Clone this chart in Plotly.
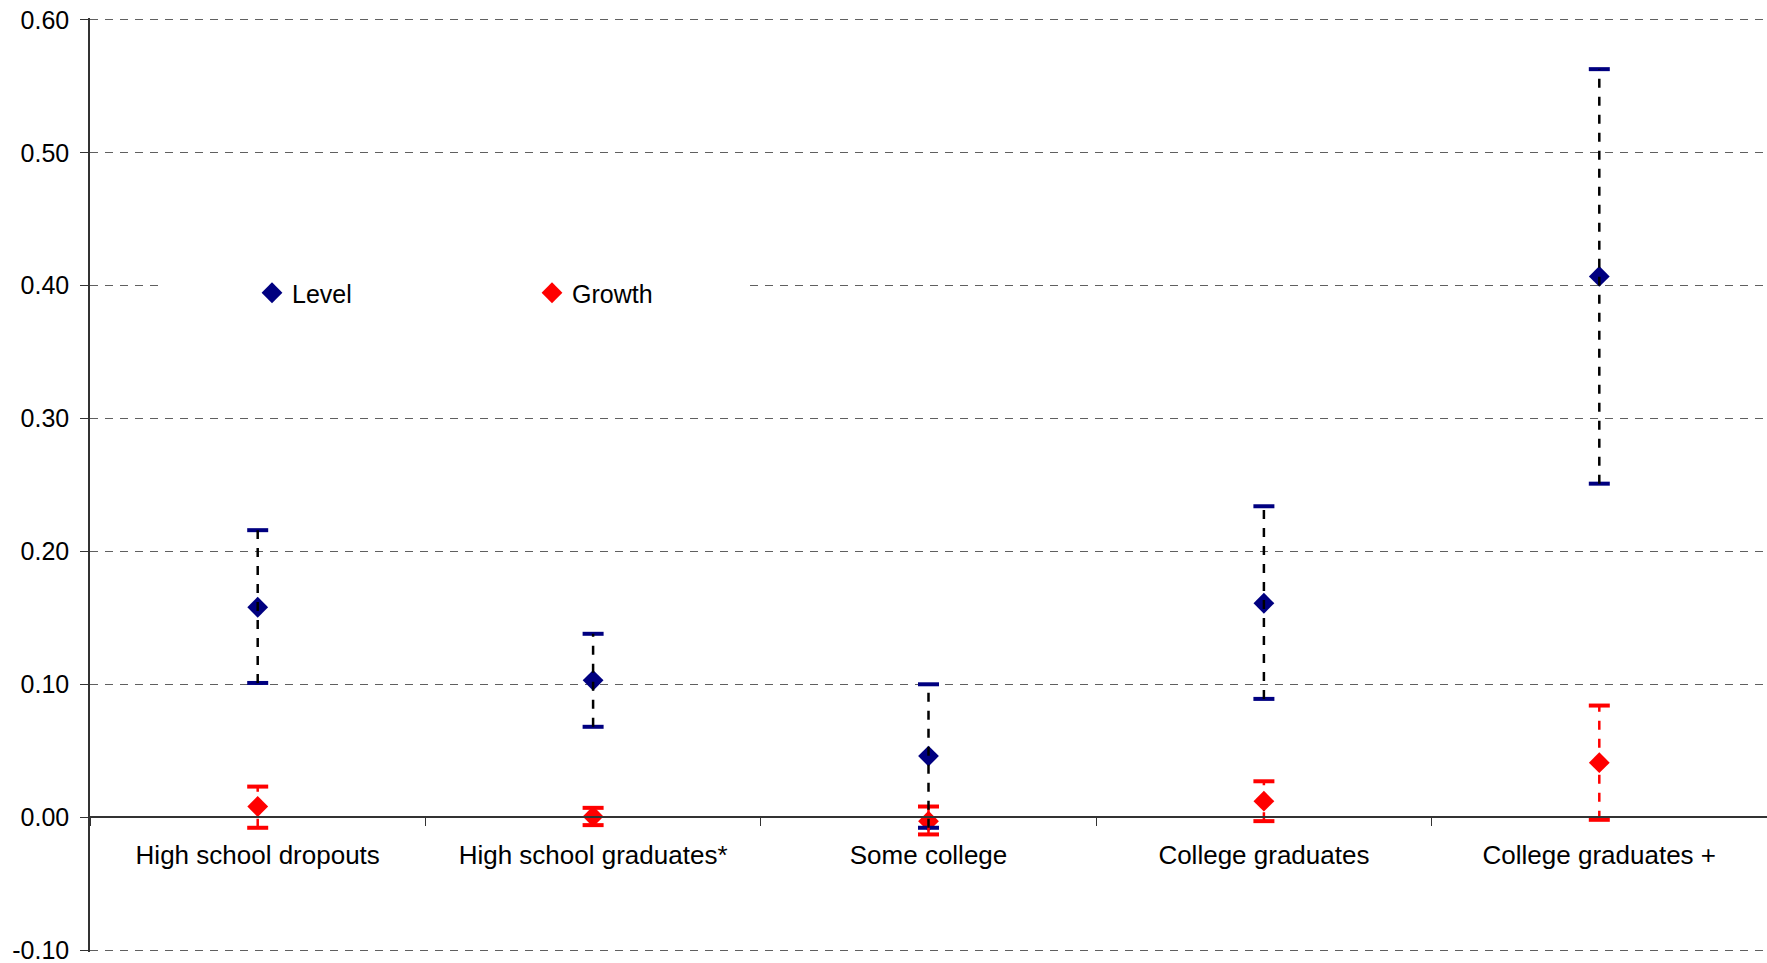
import plotly.graph_objects as go

# Education groups on the category axis
categories = [
    "High school dropouts",
    "High school graduates*",
    "Some college",
    "College graduates",
    "College graduates +",
]

# Level estimates with their upper / lower bounds
level = [0.158, 0.103, 0.046, 0.161, 0.407]
level_hi = [0.216, 0.138, 0.100, 0.234, 0.563]
level_lo = [0.101, 0.068, -0.008, 0.089, 0.251]

# Growth estimates with their upper / lower bounds
growth = [0.008, 0.0005, -0.003, 0.012, 0.041]
growth_hi = [0.023, 0.007, 0.008, 0.027, 0.084]
growth_lo = [-0.008, -0.006, -0.013, -0.003, -0.002]

# Value axis ticks
y_ticks = [-0.10, 0.00, 0.10, 0.20, 0.30, 0.40, 0.50, 0.60]
y_tick_labels = ["-0.10", "0.00", "0.10", "0.20", "0.30", "0.40", "0.50", "0.60"]

NAVY = "#000080"
RED = "#FF0000"
FONT = "Liberation Sans, Arial, sans-serif"

W, H = 1767, 963
M_L, M_R, M_T, M_B = 90, 0, 18, 11
# a little slack (about 2px) so the end gridlines are drawn inside the plot
Y_RANGE = [-0.1015, 0.6015]


def segments(xs, lo, hi):
    """Vertical segments from lo to hi at each category, separated by gaps."""
    sx, sy = [], []
    for x, a, b in zip(xs, lo, hi):
        sx += [x, x, None]
        sy += [a, b, None]
    return sx, sy


fig = go.Figure()

series = [
    ("Growth", growth, growth_lo, growth_hi, RED, RED, 2),
    ("Level", level, level_lo, level_hi, NAVY, "#000000", 1),
]

# markers and caps first, dashed ranges on top
for name, vals, lo, hi, col, line_col, rank in series:
    fig.add_trace(go.Scatter(
        x=categories, y=vals, mode="markers", name=name,
        marker=dict(symbol="diamond", size=16, color=col, line=dict(width=0)),
        legendrank=rank, showlegend=True, hoverinfo="x+y",
    ))
    fig.add_trace(go.Scatter(
        x=categories + categories, y=list(lo) + list(hi), mode="markers",
        marker=dict(symbol="line-ew", size=15,
                    line=dict(width=4, color=col)),
        showlegend=False, hoverinfo="skip",
    ))

for name, vals, lo, hi, col, line_col, rank in series:
    sx, sy = segments(categories, lo, hi)
    fig.add_trace(go.Scatter(
        x=sx, y=sy, mode="lines",
        line=dict(color=line_col, width=2.5, dash="9px,9px"),
        showlegend=False, hoverinfo="skip", connectgaps=False,
    ))

# white backing behind the legend, hiding the gridline there
fig.add_shape(
    type="rect", layer="above",
    xref="paper", yref="y",
    x0=(161 - M_L) / (W - M_L - M_R), x1=(749 - M_L) / (W - M_L - M_R),
    y0=0.38, y1=0.42,
    fillcolor="white", line=dict(width=0),
)

plot_h = H - M_T - M_B
zero_pos = (0 - Y_RANGE[0]) / (Y_RANGE[1] - Y_RANGE[0])

fig.update_layout(
    width=W, height=H,
    margin=dict(l=M_L, r=M_R, t=M_T, b=M_B, pad=0),
    paper_bgcolor="white", plot_bgcolor="white",
    font=dict(family=FONT, size=26, color="black"),
    showlegend=True,
    legend=dict(
        orientation="h",
        x=(252 - M_L) / (W - M_L - M_R), xanchor="left",
        y=(H - M_B - 293) / plot_h, yanchor="middle",
        bgcolor="rgba(0,0,0,0)", borderwidth=0,
        font=dict(family=FONT, size=25, color="black"),
        entrywidth=235, entrywidthmode="pixels",
        itemwidth=30,
    ),
    xaxis=dict(
        type="category",
        categoryorder="array", categoryarray=categories,
        range=[-0.5, len(categories) - 0.5],
        anchor="free", position=zero_pos,
        showline=True, linecolor="#333333", linewidth=1.5,
        ticks="outside", ticklen=8, tickcolor="#333333", tickwidth=1,
        tickson="boundaries",
        showgrid=False, zeroline=False,
        ticklabelstandoff=15,
        tickfont=dict(family=FONT, size=26, color="black"),
    ),
    yaxis=dict(
        range=Y_RANGE,
        tickmode="array", tickvals=y_ticks, ticktext=y_tick_labels,
        showline=True, linecolor="#333333", linewidth=1.5,
        ticks="outside", ticklen=8, tickcolor="#333333",
        showgrid=True, gridcolor="#606060", gridwidth=1, griddash="8px,7px",
        zeroline=False,
        ticklabelstandoff=6,
        ticklabeloverflow="allow",
        tickfont=dict(family=FONT, size=25, color="black"),
    ),
)

fig.write_html("out.html")
